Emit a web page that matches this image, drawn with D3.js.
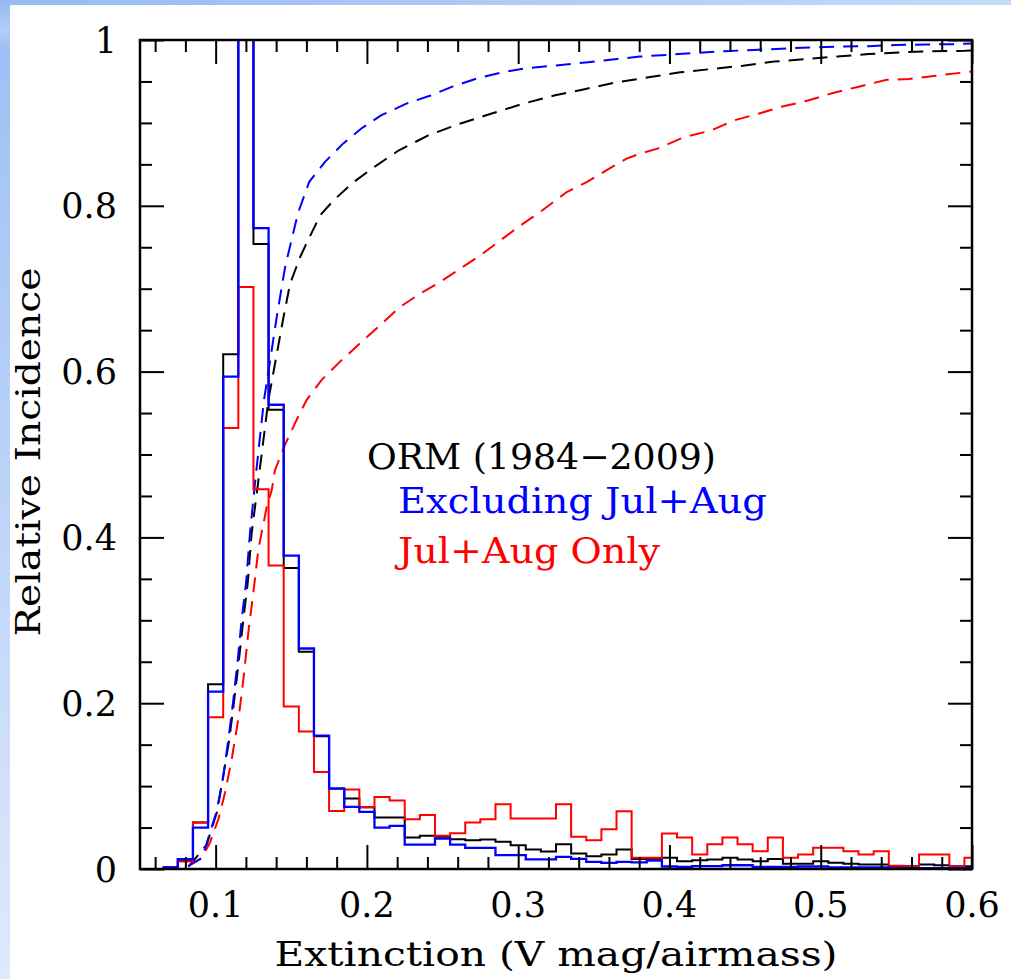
<!DOCTYPE html>
<html><head><meta charset="utf-8">
<script src="https://cdn.jsdelivr.net/npm/d3@7"></script>
<style>html,body{margin:0;padding:0;background:#fff;overflow:hidden;} svg{display:block;}</style>
</head><body>
<svg id="chart" width="1011" height="979"></svg>
<script>
// ---------- data ----------
const binCenters = [0.07,0.08,0.09,0.10,0.11,0.12,0.13,0.14,0.15,0.16,0.17,0.18,0.19,0.20,
  0.21,0.22,0.23,0.24,0.25,0.26,0.27,0.28,0.29,0.30,0.31,0.32,0.33,0.34,0.35,0.36,0.37,0.38,
  0.39,0.40,0.41,0.42,0.43,0.44,0.45,0.46,0.47,0.48,0.49,0.50,0.51,0.52,0.53,0.54,0.55,0.56,
  0.57,0.58,0.59,0.60];
const binWidth = 0.01;

// ORM (1984-2009), all months
const histAll = [0.002,0.011,0.056,0.223,0.621,1.30,0.754,0.554,0.363,0.262,0.160,0.097,0.085,0.0745,
  0.062,0.062,0.038,0.040,0.039,0.036,0.0347,0.0355,0.033,0.0287,0.0235,0.021,0.030,0.0187,0.0155,0.0175,0.0235,0.0122,
  0.0122,0.0135,0.0094,0.0107,0.0115,0.0135,0.0115,0.0094,0.0122,0.0062,0.0062,0.0094,0.0075,0.0062,0.0054,0.0054,0.0034,0.0034,
  0.0054,0.0046,0.0034,0.0034];
// Excluding Jul+Aug
const histExcl = [0.002,0.012,0.050,0.214,0.594,1.35,0.773,0.560,0.378,0.266,0.161,0.097,0.075,0.069,
  0.050,0.052,0.0295,0.0295,0.0367,0.0295,0.0255,0.0255,0.0167,0.0167,0.0115,0.0115,0.0147,0.0123,0.0087,0.0075,0.0087,0.008,
  0.010,0.003,0.0025,0.0035,0.0035,0.0045,0.0045,0.0025,0.0025,0.0025,0.003,0.003,0.002,0.002,0.002,0.002,0.001,0.001,
  0.001,0.001,0.001,0.001];
// Jul+Aug only
const histJulAug = [0.002,0.009,0.056,0.183,0.532,0.702,0.458,0.366,0.196,0.166,0.117,0.070,0.096,0.0745,
  0.087,0.0825,0.060,0.065,0.040,0.043,0.056,0.060,0.078,0.0608,0.0608,0.0608,0.078,0.0388,0.0347,0.048,0.0697,0.0135,
  0.0135,0.0428,0.038,0.0175,0.030,0.038,0.030,0.0215,0.038,0.0135,0.0175,0.0255,0.0255,0.0215,0.0175,0.0215,0.004,0.0027,
  0.0175,0.0175,0.0027,0.0135];

// cumulative curves [extinction, fraction]
const cdfAll = [[0.082,0.003],[0.0831,0.005],[0.0941,0.0295],[0.1011,0.070],[0.1090,0.156],[0.1123,0.204],[0.1154,0.252],
  [0.1183,0.301],[0.1212,0.345],[0.1238,0.405],[0.1280,0.465],[0.1349,0.566],[0.1449,0.666],[0.1492,0.706],[0.1558,0.738],
  [0.1604,0.756],[0.1693,0.789],[0.1782,0.807],[0.1901,0.827],[0.2050,0.847],[0.2212,0.867],[0.2406,0.885],[0.2614,0.899],
  [0.2820,0.911],[0.3030,0.923],[0.3237,0.933],[0.3446,0.941],[0.3653,0.949],[0.3862,0.955],[0.4070,0.961],[0.4278,0.965],
  [0.4486,0.969],[0.4694,0.974],[0.4901,0.977],[0.5110,0.980],[0.5318,0.983],[0.5524,0.985],[0.5734,0.9865],[0.5954,0.987],[0.6,0.9875]];
const cdfExcl = [[0.082,0.003],[0.0831,0.005],[0.0908,0.013],[0.0941,0.031],[0.1007,0.070],[0.1051,0.112],[0.1084,0.156],
  [0.1117,0.204],[0.1146,0.252],[0.1172,0.301],[0.1201,0.345],[0.1227,0.405],[0.1260,0.465],[0.1293,0.521],[0.1320,0.566],
  [0.1364,0.618],[0.1404,0.666],[0.1459,0.726],[0.1544,0.791],[0.1619,0.829],[0.1723,0.853],[0.1842,0.875],[0.1961,0.893],
  [0.2093,0.909],[0.2257,0.923],[0.2421,0.933],[0.2569,0.944],[0.2733,0.954],[0.2896,0.961],[0.3058,0.966],[0.3237,0.969],
  [0.3446,0.973],[0.3624,0.9765],[0.3803,0.980],[0.3981,0.982],[0.4174,0.9845],[0.4367,0.9865],[0.4559,0.988],[0.4737,0.9895],
  [0.4929,0.991],[0.5108,0.992],[0.5318,0.9925],[0.5496,0.994],[0.5703,0.9945],[0.5881,0.995],[0.6,0.9958]];
const cdfJulAug = [[0.082,0.003],[0.0831,0.005],[0.0908,0.0135],[0.0963,0.032],[0.1018,0.060],[0.1062,0.092],[0.1106,0.132],
  [0.1156,0.188],[0.1188,0.236],[0.1216,0.285],[0.1249,0.333],[0.1282,0.385],[0.1338,0.437],[0.1371,0.457],[0.1392,0.481],
  [0.1459,0.512],[0.1536,0.542],[0.1602,0.566],[0.1701,0.590],[0.1822,0.612],[0.1954,0.634],[0.2087,0.656],[0.2219,0.678],
  [0.2351,0.694],[0.2483,0.708],[0.2615,0.724],[0.2748,0.740],[0.2880,0.758],[0.3012,0.776],[0.3144,0.7925],[0.3232,0.8045],
  [0.3321,0.8166],[0.3453,0.8286],[0.3585,0.843],[0.3717,0.857],[0.3805,0.863],[0.3921,0.869],[0.4100,0.883],[0.4278,0.891],
  [0.4427,0.903],[0.4605,0.912],[0.4753,0.920],[0.4916,0.927],[0.5080,0.936],[0.5258,0.944],[0.5436,0.952],[0.5584,0.953],
  [0.5762,0.957],[0.5954,0.961],[0.6,0.962]];

const xTicks = [0.1,0.2,0.3,0.4,0.5,0.6];
const xTickLabels = ["0.1","0.2","0.3","0.4","0.5","0.6"];
const yTicks = [0,0.2,0.4,0.6,0.8,1];
const yTickLabels = ["0","0.2","0.4","0.6","0.8","1"];
const legendLabels = ["ORM (1984\u22122009)","Excluding Jul+Aug","Jul+Aug Only"];
const seriesColors = ["#000000","#0000ff","#ff0000"];
const xTitle = "Extinction (V mag/airmass)";
const yTitle = "Relative Incidence";

// ---------- layout ----------
const L = 140, R = 972, T = 40, B = 869;
const svg = d3.select("#chart");
const x = d3.scaleLinear().domain([0.05, 0.6]).range([L, R]);
const y = d3.scaleLinear().domain([0, 1]).range([B, T]);
const FONT = "'DejaVu Serif', 'Liberation Serif', serif";

// background frame (slide-style blue edges)
const defs = svg.append("defs");
const gl = defs.append("linearGradient").attr("id","gl").attr("x1",0).attr("y1",0).attr("x2",0).attr("y2",1);
gl.append("stop").attr("offset","0").attr("stop-color","#93b7f3");
gl.append("stop").attr("offset","0.03").attr("stop-color","#b3cdf7");
gl.append("stop").attr("offset","0.05").attr("stop-color","#9fc0f5");
gl.append("stop").attr("offset","0.5").attr("stop-color","#bcd3f8");
gl.append("stop").attr("offset","1").attr("stop-color","#dfe9fb");
const gt = defs.append("linearGradient").attr("id","gt").attr("x1",0).attr("y1",0).attr("x2",1).attr("y2",0);
gt.append("stop").attr("offset","0").attr("stop-color","#98bbf4");
gt.append("stop").attr("offset","1").attr("stop-color","#c6daf9");
defs.append("clipPath").attr("id","plotclip").append("rect")
  .attr("x", L).attr("y", T).attr("width", R - L).attr("height", B - T);

svg.append("rect").attr("x",0).attr("y",0).attr("width",1011).attr("height",979).attr("fill","#fff");
svg.append("rect").attr("x",0).attr("y",0).attr("width",1011).attr("height",5).attr("fill","url(#gt)");
svg.append("rect").attr("x",0).attr("y",0).attr("width",10).attr("height",979).attr("fill","url(#gl)");

// ---------- marks ----------
const plot = svg.append("g").attr("clip-path","url(#plotclip)");

const stepLine = d3.line().x(d => x(d[0])).y(d => y(d[1])).curve(d3.curveStepAfter);
function histPoints(vals) {
  const pts = binCenters.map((c, i) => [c - binWidth / 2, vals[i]]);
  pts.push([binCenters[binCenters.length - 1] + binWidth / 2, vals[vals.length - 1]]);
  return pts;
}
const cdfLine = d3.line().x(d => x(d[0])).y(d => y(d[1]));

const hists = [histAll, histJulAug, histExcl];
const histCols = [seriesColors[0], seriesColors[2], seriesColors[1]];
const cdfs = [cdfAll, cdfJulAug, cdfExcl];

cdfs.forEach((c, i) => {
  plot.append("path").attr("d", cdfLine(c)).attr("fill","none")
    .attr("stroke", histCols[i]).attr("stroke-width", 2).attr("stroke-dasharray","15,9");
});
hists.forEach((h, i) => {
  plot.append("path").attr("d", stepLine(histPoints(h))).attr("fill","none")
    .attr("stroke", histCols[i]).attr("stroke-width", i === 2 ? 2.3 : 2)
    .attr("stroke-linejoin","miter");
});

// ---------- axes ----------
const xMinor = d3.range(0.06, 0.6001, 0.02).filter(v => Math.abs(v * 10 - Math.round(v * 10)) > 1e-6);
const yMinor = d3.range(0.05, 1.0001, 0.05).filter(v => Math.abs(v * 5 - Math.round(v * 5)) > 1e-6);

function styleAxis(g) {
  g.select(".domain").remove();
  g.selectAll(".tick line").attr("stroke","#000").attr("stroke-width",2);
  g.selectAll(".tick text").remove();
}
const axes = [
  [d3.axisBottom(x), `translate(0,${B})`, xTicks, xMinor],
  [d3.axisTop(x), `translate(0,${T})`, xTicks, xMinor],
  [d3.axisLeft(y), `translate(${L},0)`, yTicks, yMinor],
  [d3.axisRight(y), `translate(${R},0)`, yTicks, yMinor]
];
axes.forEach(([ax, tr, major, minor]) => {
  svg.append("g").attr("transform", tr)
    .call(ax.tickValues(major).tickSizeInner(-24).tickSizeOuter(0).tickFormat(""))
    .call(styleAxis);
  svg.append("g").attr("transform", tr)
    .call(ax.tickValues(minor).tickSizeInner(-12).tickSizeOuter(0).tickFormat(""))
    .call(styleAxis);
});

// frame
svg.append("rect").attr("x", L).attr("y", T).attr("width", R - L).attr("height", B - T)
  .attr("fill","none").attr("stroke","#000").attr("stroke-width",2.5);

// tick labels
svg.append("g").selectAll("text").data(xTicks).join("text")
  .attr("x", d => x(d)).attr("y", B + 48)
  .attr("text-anchor","middle").attr("font-family", FONT).attr("font-size", 35)
  .attr("fill","#000").text((d, i) => xTickLabels[i]);
svg.append("g").selectAll("text").data(yTicks).join("text")
  .attr("x", L - 23).attr("y", d => y(d) + 12.5)
  .attr("text-anchor","end").attr("font-family", FONT).attr("font-size", 35)
  .attr("fill","#000").text((d, i) => yTickLabels[i]);

// axis titles
svg.append("text").attr("x", (L + R) / 2).attr("y", 966)
  .attr("text-anchor","middle").attr("font-family", FONT).attr("font-size", 34)
  .attr("textLength", 563).attr("lengthAdjust","spacingAndGlyphs")
  .attr("fill","#000").text(xTitle);
svg.append("text").attr("transform","translate(40,452) rotate(-90)")
  .attr("text-anchor","middle").attr("font-family", FONT).attr("font-size", 34)
  .attr("textLength", 369).attr("lengthAdjust","spacingAndGlyphs")
  .attr("fill","#000").text(yTitle);

// legend
const legendPos = [[367, 469, 349], [398, 513, 369], [398, 563, 262]];
legendLabels.forEach((t, i) => {
  svg.append("text").attr("x", legendPos[i][0]).attr("y", legendPos[i][1])
    .attr("font-family", FONT).attr("font-size", 36)
    .attr("textLength", legendPos[i][2]).attr("lengthAdjust","spacingAndGlyphs")
    .attr("fill", seriesColors[i]).text(t);
});
</script>
</body></html>
